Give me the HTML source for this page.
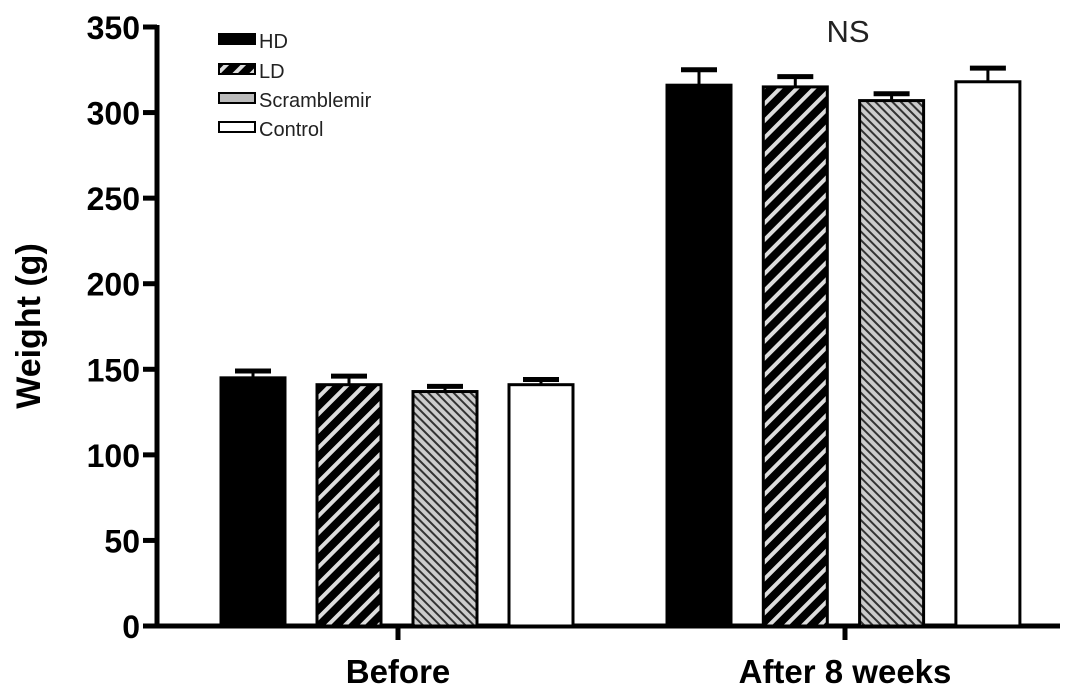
<!DOCTYPE html>
<html><head><meta charset="utf-8"><style>
body{margin:0;background:#fff}
svg{display:block;font-family:"Liberation Sans",Arial,sans-serif}
</style></head><body>
<svg id="chart" width="1087" height="700" viewBox="0 0 1087 700">
<defs>
<pattern id="ldp" patternUnits="userSpaceOnUse" width="12" height="12" patternTransform="rotate(45)">
<rect width="12" height="12" fill="#000"/><rect x="0" width="4" height="12" fill="#ddd"/></pattern>
<pattern id="scp" patternUnits="userSpaceOnUse" width="6" height="6" patternTransform="rotate(-45)">
<rect width="6" height="6" fill="#ccc"/><rect x="0" width="2" height="6" fill="#333"/></pattern>
</defs>
<g id="axes"></g>
<g id="bars"></g>
<text x="40" y="326" font-size="34" font-weight="bold" text-anchor="middle" transform="rotate(-90 40 326)">Weight (g)</text>
<text x="848" y="42" font-size="31" fill="#222" text-anchor="middle">NS</text>
<g>
<rect x="219" y="34" width="36" height="10" fill="#000" stroke="#000" stroke-width="2"/>
<text x="259" y="48" font-size="20" fill="#222">HD</text>
<rect x="219" y="64" width="36" height="10" fill="url(#ldp)" stroke="#000" stroke-width="2"/>
<text x="259" y="78" font-size="20" fill="#222">LD</text>
<rect x="219" y="93" width="36" height="10" fill="#bbb" stroke="#000" stroke-width="2"/>
<text x="259" y="107" font-size="20" fill="#222">Scramblemir</text>
<rect x="219" y="122" width="36" height="10" fill="#fff" stroke="#000" stroke-width="2"/>
<text x="259" y="136" font-size="20" fill="#222">Control</text>
</g>
</svg>
<script>
const groups = ["Before", "After 8 weeks"];
const seriesNames = ["HD", "LD", "Scramblemir", "Control"];
const hdVals = [145, 316];
const ldVals = [141, 315];
const scVals = [137, 307];
const ctVals = [141, 318];
const hdErr = [4, 9];
const ldErr = [5, 6];
const scErr = [3, 4];
const ctErr = [3, 8];
const yTicks = [0, 50, 100, 150, 200, 250, 300, 350];

const NS = "http://www.w3.org/2000/svg";
const y0 = 626, yTop = 27, yMax = 350;
const yS = v => y0 - (y0 - yTop) * v / yMax;
const groupStart = [221, 667], barStep = [96, 96.3], barW = 64;
const fills = ["#000", "url(#ldp)", "url(#scp)", "#fff"];
const vals = [hdVals, ldVals, scVals, ctVals];
const errs = [hdErr, ldErr, scErr, ctErr];
function mk(tag, attrs, parent){const e=document.createElementNS(NS,tag);for(const k in attrs)e.setAttribute(k,attrs[k]);parent.appendChild(e);return e;}
const ax = document.getElementById("axes"), bg = document.getElementById("bars");
let yl = mk("line",{x1:157,y1:yS(350)-2,x2:157,y2:y0+2,stroke:"#000","stroke-width":5},ax);


let xl = mk("line",{x1:155,y1:y0,x2:1060,y2:y0,stroke:"#000","stroke-width":5},ax);


yTicks.forEach(t=>{
  const tk = mk("line",{x1:143,y1:yS(t),x2:157,y2:yS(t),stroke:"#000","stroke-width":5},ax);
  
  
  const tx = mk("text",{x:140,y:yS(t)+12,"font-size":32,"font-weight":"bold","text-anchor":"end"},ax);
  tx.textContent = t;
  
  
});
groups.forEach((g,gi)=>{
  const cx = gi===0 ? 398 : 845;
  const tk = mk("line",{x1:cx,y1:y0,x2:cx,y2:y0+14,stroke:"#000","stroke-width":5},ax);
  
  
  const tx = mk("text",{x:cx,y:683,"font-size":33,"font-weight":"bold","text-anchor":"middle"},ax);
  tx.textContent = g;
  
  
  vals.forEach((arr,si)=>{
    const x = groupStart[gi] + si*barStep[gi];
    const top = yS(arr[gi]);
    const cap = yS(arr[gi]+errs[si][gi]);
    const r = mk("rect",{x:x,y:top,width:barW,height:y0-top,fill:fills[si],stroke:"#000","stroke-width":3},bg);
    
    
    const e1 = mk("line",{x1:x+barW/2,y1:top,x2:x+barW/2,y2:cap,stroke:"#000","stroke-width":3},bg);
    
    
    const e2 = mk("line",{x1:x+barW/2-18,y1:cap,x2:x+barW/2+18,y2:cap,stroke:"#000","stroke-width":5},bg);
    
    
  });
});
</script>
</body></html>
